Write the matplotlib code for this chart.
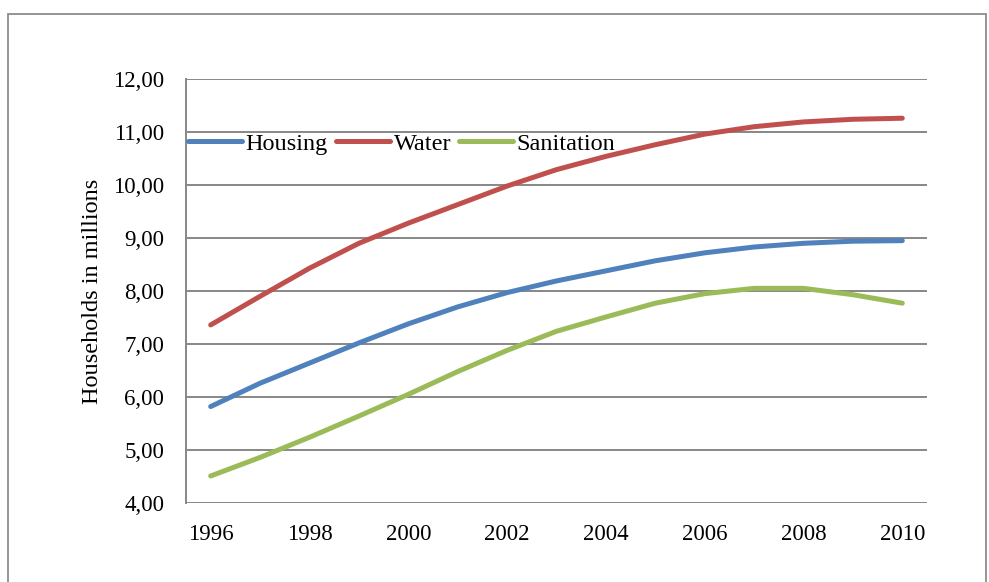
import matplotlib
matplotlib.use("Agg")
from matplotlib import pyplot as plt
from matplotlib.patches import Rectangle
from matplotlib.ticker import FuncFormatter

years = list(range(1996, 2011))
housing = [5.82, 6.26, 6.64, 7.02, 7.38, 7.70, 7.97, 8.19, 8.38, 8.57, 8.72, 8.83, 8.90, 8.94, 8.95]
water = [7.36, 7.90, 8.43, 8.90, 9.28, 9.63, 9.98, 10.29, 10.54, 10.76, 10.96, 11.10, 11.19, 11.24, 11.26]
sanitation = [4.51, 4.86, 5.24, 5.64, 6.05, 6.48, 6.88, 7.24, 7.51, 7.77, 7.95, 8.05, 8.05, 7.93, 7.77]
year_ticks = [1996, 1998, 2000, 2002, 2004, 2006, 2008, 2010]
y_ticks = [4, 5, 6, 7, 8, 9, 10, 11, 12]

plt.rcParams['font.family'] = ['Liberation Serif', 'DejaVu Serif']
plt.rcParams['font.size'] = 16.5

fig = plt.figure(figsize=(9.89, 5.82), dpi=100)
W, H = 989, 582
ax = fig.add_axes([186 / W, (H - 503) / H, 741 / W, 424 / H])

# outer chart border (runs off the bottom of the picture)
border = Rectangle((8 / W, -0.05), 978 / W, (H - 14) / H + 0.05, transform=fig.transFigure,
                   fill=False, edgecolor='#8c8c8c', linewidth=1.3, clip_on=False)
fig.patches.append(border)

grid_col = '#878787'
for v in y_ticks:
    ax.axhline(v, color=grid_col, linewidth=1.4, zorder=1)

ax.plot(years, housing, color='#4F81BD', lw=3.6, solid_capstyle='round', label='Housing', zorder=3)
ax.plot(years, water, color='#C0504D', lw=3.6, solid_capstyle='round', label='Water', zorder=3)
ax.plot(years, sanitation, color='#9BBB59', lw=3.6, solid_capstyle='round', label='Sanitation', zorder=3)

ax.set_xlim(1995.5, 2010.5)
ax.set_ylim(4, 12)
ax.set_xticks(year_ticks)
ax.set_yticks(y_ticks)
ax.yaxis.set_major_formatter(FuncFormatter(lambda v, p: f"{v:.2f}".replace('.', ',')))
ax.tick_params(axis='both', length=0, labelsize=16.5)
ax.tick_params(axis='x', pad=15)
ax.tick_params(axis='y', pad=15.8)

for s in ['top', 'right', 'bottom']:
    ax.spines[s].set_visible(False)
ax.spines['left'].set_color(grid_col)
ax.spines['left'].set_linewidth(1.4)

fig.text(92 / W, 0.5, 'Households in millions', rotation=90, ha='center', va='center', fontsize=17.5)

ax.legend(loc='center left', bbox_to_anchor=(0.0027, 0.847), ncol=3, frameon=False,
          borderpad=0, borderaxespad=0, handlelength=2.22, handletextpad=0.15,
          columnspacing=0.33, fontsize=17.5)

fig.savefig('out.png', dpi=100)
